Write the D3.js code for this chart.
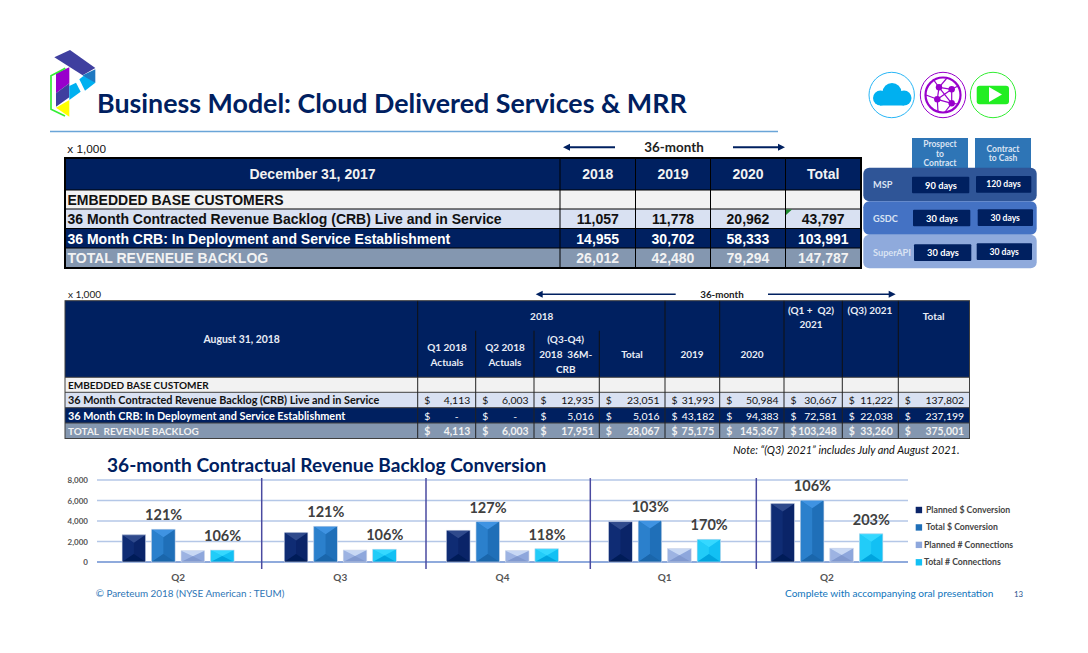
<!DOCTYPE html>
<html>
<head>
<meta charset="utf-8">
<script src="https://cdn.jsdelivr.net/npm/d3@7"></script>
<style>
  html, body { margin: 0; padding: 0; background: #fff; }
  svg { display: block; }
  text { font-family: Lato, sans-serif; }
</style>
</head>
<body>
<div id="slide"></div>
<script>
// table 1 values
var years2017 = ['2018', '2019', '2020', 'Total'];
var labels2017 = ['EMBEDDED BASE CUSTOMERS', '36 Month Contracted Revenue Backlog (CRB) Live and in Service', '36 Month CRB: In Deployment and Service Establishment', 'TOTAL REVENEUE BACKLOG'];
var live2017 = [11057, 11778, 20962, 43797];
var deploy2017 = [14955, 30702, 58333, 103991];
var total2017 = [26012, 42480, 79294, 147787];

// table 2 values
var labels2018 = ['EMBEDDED BASE CUSTOMER', '36 Month Contracted Revenue Backlog (CRB) Live and in Service', '36 Month CRB: In Deployment and Service Establishment', 'TOTAL  REVENUE BACKLOG'];
var live2018 = [4113, 6003, 12935, 23051, 31993, 50984, 30667, 11222, 137802];
var deploy2018 = [null, null, 5016, 5016, 43182, 94383, 72581, 22038, 237199];
var total2018 = [4113, 6003, 17951, 28067, 75175, 145367, 103248, 33260, 375001];

// bar chart values
var quarters = ['Q2', 'Q3', 'Q4', 'Q1', 'Q2'];
var seriesNames = ['Planned $ Conversion', 'Total $ Conversion', 'Planned # Connections', 'Total # Connections'];
var plannedDollar = [2650, 2880, 3100, 3930, 5700];
var totalDollar = [3200, 3490, 3940, 4040, 6030];
var plannedConn = [1100, 1170, 1100, 1300, 1350];
var totalConn = [1170, 1250, 1290, 2220, 2750];
var dollarPct = ['121%', '121%', '127%', '103%', '106%'];
var connPct = ['106%', '106%', '118%', '170%', '203%'];
var yTicks = [0, 2000, 4000, 6000, 8000];

// side panel
var panelRows = ['MSP', 'GSDC', 'SuperAPI'];
var prospectDays = ['90 days', '30 days', '30 days'];
var cashDays = ['120 days', '30 days', '30 days'];

var navy = '#002060';
var rowFill = ['#f2f2f2', '#d9e1f2', navy, '#8497b0'];
var rowText = ['#111', '#111', '#fff', '#f2f2f2'];
var arial = '"Liberation Sans", Arial, sans-serif';

var svg = d3.select('#slide').append('svg').attr('width', 1088).attr('height', 653);

function txt(parent, x, y, s, o) {
  o = o || {};
  return parent.append('text').attr('x', x).attr('y', y).text(s)
    .attr('text-anchor', o.anchor || 'start')
    .style('font-family', o.family || 'Lato, sans-serif')
    .style('font-size', (o.size || 10) + 'px')
    .style('font-weight', o.weight || 400)
    .style('font-style', o.italic ? 'italic' : 'normal')
    .style('white-space', 'pre')
    .attr('fill', o.fill || '#222');
}

function arrow(x1, x2, y, w) {
  var dir = x2 > x1 ? 1 : -1;
  svg.append('line').attr('x1', x1).attr('x2', x2 - dir * 4).attr('y1', y).attr('y2', y)
    .attr('stroke', navy).attr('stroke-width', w);
  svg.append('path').attr('d', d3.line()([[x2, y], [x2 - dir * 7, y - 3.5], [x2 - dir * 7, y + 3.5]]))
    .attr('fill', navy);
}

// logo
var logo = svg.append('g').attr('transform', 'translate(40,40) scale(0.3333)');
var logoParts = [
  ['#3f3f9f', [[43, 52], [90, 30], [166, 84], [128, 106]]],
  ['#1f78c1', [[128, 106], [166, 88], [166, 128], [150, 128]]],
  ['#00b0f0', [[118, 118], [130, 108], [166, 128], [135, 152]]],
  ['#9900cc', [[48, 100], [88, 82], [88, 130], [48, 160]]],
  ['#3f3f9f', [[48, 160], [88, 130], [88, 172], [48, 200]]],
  ['#00b0f0', [[88, 138], [108, 128], [122, 155], [88, 180]]],
  ['#ffff00', [[48, 203], [88, 180], [88, 230]]]
];
logoParts.forEach(function(p) {
  logo.append('path').attr('d', d3.line()(p[1]) + 'Z').attr('fill', p[0]);
});
logo.append('path').attr('d', d3.line()([[76, 85], [33, 107], [33, 208], [75, 228]]))
  .attr('fill', 'none').attr('stroke', '#33ee33').attr('stroke-width', 5);

txt(svg, 97, 113, 'Business Model: Cloud Delivered Services & MRR', {size: 26.8, weight: 700, fill: navy});
svg.append('line').attr('x1', 50).attr('x2', 778).attr('y1', 131.5).attr('y2', 131.5)
  .attr('stroke', '#6aa5d8').attr('stroke-width', 1.5);

// icons
svg.append('circle').attr('cx', 891.7).attr('cy', 95).attr('r', 22.7).attr('fill', 'none').attr('stroke', '#29b6f6').attr('stroke-width', 1);
var cloud = svg.append('g').attr('fill', '#00b0f0');
cloud.append('circle').attr('cx', 892).attr('cy', 92.5).attr('r', 9.5);
cloud.append('circle').attr('cx', 880.5).attr('cy', 98).attr('r', 7.5);
cloud.append('circle').attr('cx', 904).attr('cy', 98).attr('r', 7.5);
cloud.append('rect').attr('x', 880).attr('y', 95).attr('width', 24).attr('height', 10.5);

svg.append('circle').attr('cx', 943).attr('cy', 95).attr('r', 22.7).attr('fill', 'none').attr('stroke', '#9900cc').attr('stroke-width', 1);
svg.append('circle').attr('cx', 943).attr('cy', 95).attr('r', 17.5).attr('fill', 'none').attr('stroke', '#9900cc').attr('stroke-width', 2.2);
var nodes = [[939, 87.3], [951.7, 89.3], [937.3, 99.3], [951.7, 103.3]];
var links = [[0, 1], [0, 2], [1, 3], [2, 3], [1, 2], [0, 3]];
links.forEach(function(l) {
  svg.append('line').attr('x1', nodes[l[0]][0]).attr('y1', nodes[l[0]][1]).attr('x2', nodes[l[1]][0]).attr('y2', nodes[l[1]][1])
    .attr('stroke', '#9900cc').attr('stroke-width', 1.2);
});
[[[939, 87.3], [933, 79]], [[951.7, 89.3], [958, 86]], [[937.3, 99.3], [926, 95]], [[937.3, 99.3], [938, 112]], [[951.7, 103.3], [958, 104]], [[951.7, 103.3], [945, 112]], [[939, 87.3], [947, 78]]].forEach(function(l) {
  svg.append('line').attr('x1', l[0][0]).attr('y1', l[0][1]).attr('x2', l[1][0]).attr('y2', l[1][1])
    .attr('stroke', '#9900cc').attr('stroke-width', 1.2);
});
nodes.forEach(function(n) {
  svg.append('circle').attr('cx', n[0]).attr('cy', n[1]).attr('r', 3.2).attr('fill', '#9900cc');
});

svg.append('circle').attr('cx', 993).attr('cy', 95).attr('r', 22.7).attr('fill', 'none').attr('stroke', '#33ee33').attr('stroke-width', 1);
svg.append('rect').attr('x', 976.7).attr('y', 85.7).attr('width', 32.3).attr('height', 18.6).attr('rx', 3).attr('fill', '#22ee22');
svg.append('path').attr('d', d3.line()([[989, 87], [989, 102], [1002, 94.5]]) + 'Z').attr('fill', '#fff');

// side panel
var panelFill = ['#2f5597', '#4472c4', '#8faadc'];
var panelY = [167.7, 201.3, 234.7, 268.3];
[[912, ['Prospect', 'to', 'Contract']], [975, ['Contract', 'to Cash']]].forEach(function(h, j) {
  svg.append('rect').attr('x', h[0]).attr('y', 138).attr('width', 56).attr('height', 30).attr('fill', '#2e75b6');
  var ys = j == 0 ? [146.5, 156.5, 166] : [151.5, 161];
  h[1].forEach(function(t, i) {
    txt(svg, h[0] + 28, ys[i], t, {anchor: 'middle', size: 8.5, weight: 700, fill: '#dae3f3'});
  });
});
var daysBoxA = [[912, 176.7], [913, 209.7], [914, 244.3]];
var daysBoxB = [[976, 176], [977.7, 209.3], [976.7, 243.3]];
var panelLabelY = [187.7, 222, 255.7];
panelRows.forEach(function(name, i) {
  svg.append('rect').attr('x', 863.3).attr('y', panelY[i]).attr('width', 173.4).attr('height', panelY[i + 1] - panelY[i])
    .attr('rx', 6).attr('fill', panelFill[i]);
});
panelRows.forEach(function(name, i) {
  txt(svg, 873, panelLabelY[i], name, {size: 9.2, weight: 700, fill: '#dae3f3'});
  svg.append('rect').attr('x', daysBoxA[i][0]).attr('y', daysBoxA[i][1]).attr('width', 57.3).attr('height', 16.6).attr('rx', 1).attr('fill', navy);
  svg.append('rect').attr('x', daysBoxB[i][0]).attr('y', daysBoxB[i][1]).attr('width', 55.3).attr('height', 16.8).attr('rx', 1).attr('fill', navy);
  txt(svg, daysBoxA[i][0] + 29, daysBoxA[i][1] + 11.8, prospectDays[i], {anchor: 'middle', size: 9.3, weight: 700, fill: '#fff'});
  txt(svg, daysBoxB[i][0] + 27.5, daysBoxB[i][1] + 11.4, cashDays[i], {anchor: 'middle', size: 8.6, weight: 700, fill: '#fff'});
});

// table 1
txt(svg, 67.3, 153.3, 'x 1,000', {size: 11.8, family: arial, fill: '#111'});
arrow(615, 563, 147.3, 2);
arrow(733, 785, 147.3, 2);
txt(svg, 674, 152, '36-month', {anchor: 'middle', size: 13.4, weight: 700, fill: '#222'});

var t1Cols = [65, 560, 635.5, 710.5, 785.5, 861];
var t1Rows = [158, 190, 209, 228.5, 248, 268];
var t1Base = [205.3, 224.3, 244.3, 263];
var t1Data = [null, live2017, deploy2017, total2017];
var fmt = d3.format(',');

svg.append('rect').attr('x', t1Cols[0]).attr('y', t1Rows[0]).attr('width', t1Cols[5] - t1Cols[0]).attr('height', t1Rows[1] - t1Rows[0]).attr('fill', navy);
txt(svg, 312.5, 179.3, 'December 31, 2017', {anchor: 'middle', size: 14, weight: 700, family: arial, fill: '#f2f2f2'});
years2017.forEach(function(y, j) {
  txt(svg, (t1Cols[j + 1] + t1Cols[j + 2]) / 2, 179.3, y, {anchor: 'middle', size: 14, weight: 700, family: arial, fill: '#f2f2f2'});
});
labels2017.forEach(function(l, i) {
  svg.append('rect').attr('x', t1Cols[0]).attr('y', t1Rows[i + 1]).attr('width', t1Cols[5] - t1Cols[0]).attr('height', t1Rows[i + 2] - t1Rows[i + 1]).attr('fill', rowFill[i]);
  txt(svg, 67.5, t1Base[i], l, {size: 14, weight: 700, family: arial, fill: rowText[i]});
  if (t1Data[i]) {
    t1Data[i].forEach(function(v, j) {
      txt(svg, (t1Cols[j + 1] + t1Cols[j + 2]) / 2, t1Base[i], fmt(v), {anchor: 'middle', size: 14, weight: 700, family: arial, fill: rowText[i]});
    });
  }
});
t1Rows.slice(1, 5).forEach(function(y) {
  svg.append('line').attr('x1', 65).attr('x2', 861).attr('y1', y).attr('y2', y).attr('stroke', '#000').attr('stroke-width', 1);
});
t1Cols.slice(1, 5).forEach(function(x) {
  svg.append('line').attr('x1', x).attr('x2', x).attr('y1', 158).attr('y2', 268).attr('stroke', '#000').attr('stroke-width', 1);
});
svg.append('rect').attr('x', 65).attr('y', 158).attr('width', 796).attr('height', 110).attr('fill', 'none').attr('stroke', '#000').attr('stroke-width', 2);
svg.append('path').attr('d', d3.line()([[786, 209.5], [792, 209.5], [786, 215]]) + 'Z').attr('fill', '#1e8a2e');

// table 2
txt(svg, 68, 297.7, 'x 1,000', {size: 10, fill: '#222'});
arrow(675.7, 535.7, 294.3, 1.5);
arrow(768, 895.7, 294.3, 1.5);
txt(svg, 722, 298, '36-month', {anchor: 'middle', size: 9.8, weight: 700, fill: '#222'});

var t2Cols = [65, 417.7, 475.7, 534, 599.3, 665, 719.7, 784, 842.3, 898.3, 969.5];
var t2Rows = [300.7, 377.3, 392.3, 407.7, 423, 438.5];
var t2Base = [389, 404.3, 419.7, 434.7];
var t2Data = [null, live2018, deploy2018, total2018];
var t2LabelSize = [10, 10.85, 10.85, 10];
var headW = {anchor: 'middle', size: 10, weight: 700, fill: '#e8ecf5'};

svg.append('rect').attr('x', 65).attr('y', 300.7).attr('width', 904.5).attr('height', 76.6).attr('fill', navy);
txt(svg, 241.7, 343, 'August 31, 2018', {anchor: 'middle', size: 10.4, weight: 700, fill: '#e8ecf5'});
txt(svg, 541.7, 320, '2018', headW);
txt(svg, 447, 350.7, 'Q1 2018', headW);
txt(svg, 447, 366, 'Actuals', headW);
txt(svg, 505, 350.7, 'Q2 2018', headW);
txt(svg, 505, 366, 'Actuals', headW);
txt(svg, 565.7, 343.3, '(Q3-Q4)', headW);
txt(svg, 565.7, 358.3, '2018  36M-', headW);
txt(svg, 565.7, 373.3, 'CRB', headW);
txt(svg, 632, 358.3, 'Total', headW);
txt(svg, 692, 358.3, '2019', headW);
txt(svg, 752, 358.3, '2020', headW);
txt(svg, 811, 314.3, '(Q1 +  Q2)', headW);
txt(svg, 811, 328.3, '2021', headW);
txt(svg, 870, 314.3, '(Q3) 2021', headW);
txt(svg, 933.7, 320, 'Total', headW);

labels2018.forEach(function(l, i) {
  svg.append('rect').attr('x', 65).attr('y', t2Rows[i + 1]).attr('width', 904.5).attr('height', t2Rows[i + 2] - t2Rows[i + 1]).attr('fill', rowFill[i]);
  txt(svg, 68, t2Base[i], l, {size: t2LabelSize[i], weight: 700, fill: rowText[i]});
  if (t2Data[i]) {
    t2Data[i].forEach(function(v, j) {
      var left = t2Cols[j + 1], right = t2Cols[j + 2];
      var o = {size: 10.4, weight: i == 3 ? 700 : 400, fill: rowText[i]};
      txt(svg, left + 6.5, t2Base[i], '$', o);
      var cell = {size: o.size, weight: o.weight, fill: o.fill, anchor: 'end'};
      if (v === null) {
        txt(svg, right - 17, t2Base[i], '-', cell);
      } else {
        txt(svg, right - 5.5, t2Base[i], fmt(v), cell);
      }
    });
  }
});
t2Rows.slice(1, 5).forEach(function(y) {
  svg.append('line').attr('x1', 65).attr('x2', 969.5).attr('y1', y).attr('y2', y).attr('stroke', '#404040').attr('stroke-width', 1);
});
t2Cols.slice(1, 10).forEach(function(x, k) {
  var sub = k == 1 || k == 2 || k == 3;
  svg.append('line').attr('x1', x).attr('x2', x).attr('y1', sub ? 330.7 : 300.7).attr('y2', 377.3).attr('stroke', '#111').attr('stroke-width', 1);
  svg.append('line').attr('x1', x).attr('x2', x).attr('y1', 377.3).attr('y2', 438.5).attr('stroke', '#222').attr('stroke-width', 1);
});
svg.append('rect').attr('x', 65).attr('y', 300.7).attr('width', 904.5).attr('height', 137.8).attr('fill', 'none').attr('stroke', '#404040').attr('stroke-width', 1);

txt(svg, 733, 454.3, 'Note: \u201c(Q3) 2021\u201d includes July and August 2021.', {size: 10.95, italic: true, weight: 400, fill: '#111'});

// bar chart
txt(svg, 107, 472, '36-month Contractual Revenue Backlog Conversion', {size: 19.1, weight: 700, fill: navy});

var x0 = d3.scaleBand().domain(d3.range(quarters.length)).range([97, 908]);
var x1 = d3.scaleBand().domain(d3.range(seriesNames.length)).range([0, 112]).paddingInner(0.2);
var y = d3.scaleLinear().domain([0, 8000]).range([562, 480]);

var yAxis = svg.append('g').attr('transform', 'translate(97,0)')
  .call(d3.axisLeft(y).tickValues(yTicks).tickFormat(d3.format(',')).tickSize(0).tickPadding(9));
yAxis.select('.domain').remove();
yAxis.selectAll('text').style('font-family', 'Lato, sans-serif').style('font-size', '8px').style('font-weight', 700).attr('fill', '#555');

svg.append('g').selectAll('line').data(yTicks).join('line')
  .attr('x1', 97).attr('x2', 908).attr('y1', y).attr('y2', y)
  .attr('stroke', function(d) { return d == 0 ? '#8faadc' : '#b4c7e7'; })
  .attr('stroke-width', function(d) { return d == 0 ? 2 : 1.5; });

[261.7, 426, 590.3, 756.3].forEach(function(sx) {
  svg.append('line').attr('x1', sx).attr('x2', sx).attr('y1', 478).attr('y2', 569)
    .attr('stroke', '#4a4aa0').attr('stroke-width', 1.5);
});

var xAxis = svg.append('g').attr('transform', 'translate(0,562)')
  .call(d3.axisBottom(x0).tickFormat(function(i) { return quarters[i]; }).tickSize(0).tickPadding(12));
xAxis.select('.domain').remove();
xAxis.selectAll('text').style('font-family', 'Lato, sans-serif').style('font-size', '10px').style('font-weight', 700).attr('fill', '#555');

// mid, top bevel, bottom bevel, side
var bevel = [
  ['#0a2468', '#2f4a8c', '#001c58', '#0f2c74'],
  ['#1f6fb8', '#3f93e2', '#1a66ab', '#2b80cc'],
  ['#8ea7dc', '#c8d8f4', '#8199cf', '#9db3e2'],
  ['#12c0f4', '#35d8ff', '#00a4de', '#22ccf8']
];
var allSeries = [plannedDollar, totalDollar, plannedConn, totalConn];
var bw = x1.bandwidth();

allSeries.forEach(function(vals, s) {
  vals.forEach(function(v, i) {
    var bx = x0(i) + x0.bandwidth() / 2 - 56 + x1(s);
    var by = y(v);
    var bh = y(0) - by;
    var d = Math.min(bh / 2, 8);
    var g = svg.append('g');
    g.append('rect').attr('x', bx).attr('y', by).attr('width', bw).attr('height', bh).attr('fill', bevel[s][0]);
    // left side panel of the bevel
    g.append('path').attr('d', d3.line()([[bx, by], [bx + bw / 2, by + d], [bx + bw / 2, by + bh - d], [bx, by + bh]]) + 'Z').attr('fill', bevel[s][3]);
    g.append('path').attr('d', d3.line()([[bx, by], [bx + bw, by], [bx + bw / 2, by + d]]) + 'Z').attr('fill', bevel[s][1]);
    g.append('path').attr('d', d3.line()([[bx, by + bh], [bx + bw, by + bh], [bx + bw / 2, by + bh - d]]) + 'Z').attr('fill', bevel[s][2]);
    g.append('rect').attr('x', bx).attr('y', by).attr('width', bw).attr('height', bh)
      .attr('fill', 'none').attr('stroke', '#d5dcec').attr('stroke-width', 0.6);
  });
});

// conversion labels sit over the taller bar of each pair
function pctLabels(pct, a, b, first) {
  pct.forEach(function(p, i) {
    var cx = x0(i) + x0.bandwidth() / 2 - 56 + x1(first) + bw / 2 + x1.step() / 2 + 15;
    var top = Math.max(a[i], b[i]);
    txt(svg, cx, y(top) - 9, p, {anchor: 'middle', size: 14.5, weight: 700, fill: '#404040'});
  });
}
pctLabels(dollarPct, plannedDollar, totalDollar, 0);
pctLabels(connPct, plannedConn, totalConn, 2);

// legend
var legendFill = ['#0a2468', '#1f6fb8', '#8ea7dc', '#12c0f4'];
var legendY = d3.scalePoint().domain(d3.range(seriesNames.length)).range([510, 562.3]);
seriesNames.forEach(function(n, i) {
  svg.append('rect').attr('x', 915.7).attr('y', legendY(i) - 3.2).attr('width', 6.4).attr('height', 6.4).attr('fill', legendFill[i]);
  txt(svg, i < 2 ? 926 : 924, legendY(i) + 3, n, {size: 8.7, weight: 700, fill: '#444'});
});

// footer
txt(svg, 95.7, 596.7, '\u00a9 Pareteum 2018 (NYSE American : TEUM)', {size: 9.9, fill: '#2e75b6'});
txt(svg, 785, 596.7, 'Complete with accompanying oral presentation', {size: 10.1, fill: '#0f75bc'});
txt(svg, 1014, 596.7, '13', {size: 7.8, fill: '#1f4e8c'});
</script>
</body>
</html>
